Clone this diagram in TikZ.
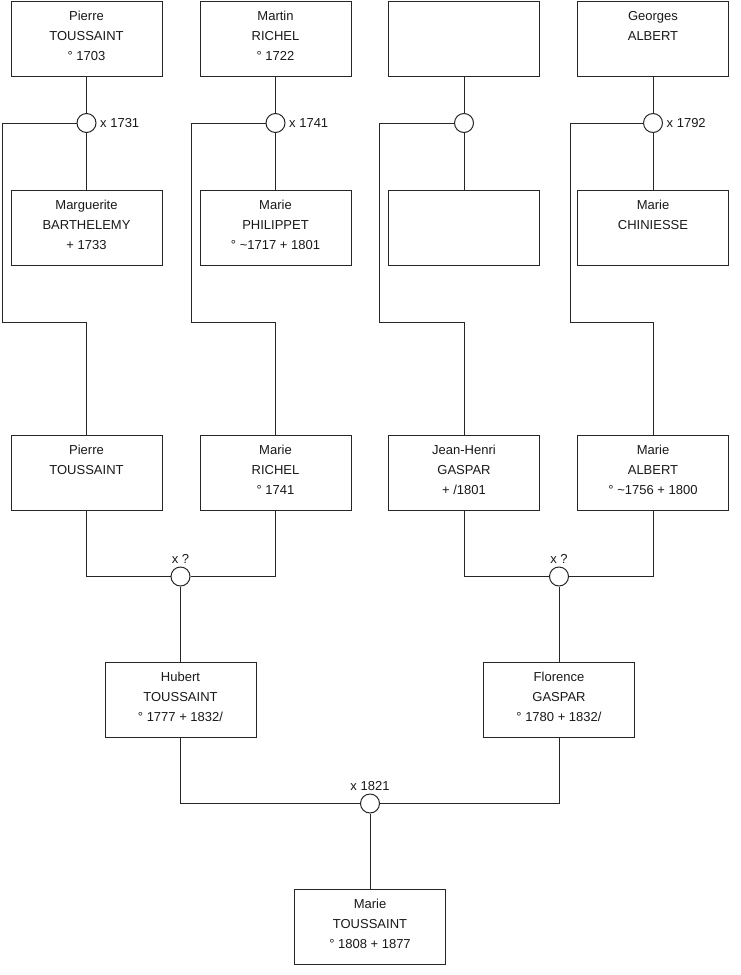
\documentclass[tikz,border=0pt]{standalone}
\usepackage{fontspec}
\setmainfont{Liberation Sans}
\begin{document}
\begin{tikzpicture}[x=1pt,y=-1pt,
  pbox/.style={draw=black!85, line width=1pt, rectangle, minimum width=151pt, minimum height=75pt, inner sep=0pt, anchor=north, fill=white},
  ptxt/.style={anchor=base, inner sep=0pt, font=\fontsize{13}{15}\selectfont, text=black!90},
  mrg/.style={draw=black!85, line width=1pt, circle, minimum size=19pt, inner sep=0pt, fill=white},
  mlab/.style={inner sep=0pt, font=\fontsize{13}{15}\selectfont, text=black!90},
  conn/.style={draw=black!85, line width=1pt}
]
\useasboundingbox (0,0) rectangle (740,975);
\newcommand\pers[6]{%
  \node[pbox] (#1) at (#2,#3) {};
  \node[ptxt] (#1-a) at ([yshift=-19.5pt]#1.north) {#4};
  \node[ptxt] (#1-b) at ([yshift=-39.5pt]#1.north) {#5};
  \node[ptxt] (#1-c) at ([yshift=-59.5pt]#1.north) {#6};
}
% row 1
\pers{a1}{86.5}{0.5}{Pierre}{TOUSSAINT}{° 1703}
\pers{b1}{275.5}{0.5}{Martin}{RICHEL}{° 1722}
\pers{c1}{464}{0.5}{}{}{}
\pers{d1}{653}{0.5}{Georges}{ALBERT}{}
% row 2
\pers{a2}{86.5}{189.5}{Marguerite}{BARTHELEMY}{+ 1733}
\pers{b2}{275.5}{189.5}{Marie}{PHILIPPET}{° \textasciitilde 1717 + 1801}
\pers{c2}{464}{189.5}{}{}{}
\pers{d2}{653}{189.5}{Marie}{CHINIESSE}{}
% row 3
\pers{a3}{86.5}{435}{Pierre}{TOUSSAINT}{}
\pers{b3}{275.5}{435}{Marie}{RICHEL}{° 1741}
\pers{c3}{464}{435}{Jean-Henri}{GASPAR}{+ /1801}
\pers{d3}{653}{435}{Marie}{ALBERT}{° \textasciitilde 1756 + 1800}
% row 4
\pers{h}{180.5}{662}{Hubert}{TOUSSAINT}{° 1777 + 1832/}
\pers{f}{559}{662}{Florence}{GASPAR}{° 1780 + 1832/}
% row 5
\pers{m}{370}{888.5}{Marie}{TOUSSAINT}{° 1808 + 1877}

% marriage circles
\node[mrg] (ma) at (86.5,123) {};
\node[mrg] (mb) at (275.5,123) {};
\node[mrg] (mc) at (464,123) {};
\node[mrg] (md) at (653,123) {};
\node[mrg] (mh) at (180.5,576.5) {};
\node[mrg] (mf) at (559,576.5) {};
\node[mrg] (mm) at (370,803.5) {};

% marriage labels
\node[mlab, anchor=west] (la) at ([xshift=3.5pt]ma.east) {x 1731};
\node[mlab, anchor=west] (lb) at ([xshift=3.5pt]mb.east) {x 1741};
\node[mlab, anchor=west] (ld) at ([xshift=3.5pt]md.east) {x 1792};
\node[mlab, anchor=south] (lh) at ([yshift=3pt]mh.north) {x ?};
\node[mlab, anchor=south] (lf) at ([yshift=3pt]mf.north) {x ?};
\node[mlab, anchor=south] (lm) at ([yshift=3pt]mm.north) {x 1821};

% connectors column a
\draw[conn] (a1.south) -- (ma.north);
\draw[conn] (ma.south) -- (a2.north);
\coordinate (ja1) at (2,123);
\coordinate (ja2) at (2,322);
\coordinate (ja3) at (86.5,322);
\draw[conn] (ma.west) -- (ja1) -- (ja2) -- (ja3) -- (a3.north);
% column b
\draw[conn] (b1.south) -- (mb.north);
\draw[conn] (mb.south) -- (b2.north);
\coordinate (jb1) at (191,123);
\coordinate (jb2) at (191,322);
\coordinate (jb3) at (275.5,322);
\draw[conn] (mb.west) -- (jb1) -- (jb2) -- (jb3) -- (b3.north);
% column c
\draw[conn] (c1.south) -- (mc.north);
\draw[conn] (mc.south) -- (c2.north);
\coordinate (jc1) at (379.5,123);
\coordinate (jc2) at (379.5,322);
\coordinate (jc3) at (464,322);
\draw[conn] (mc.west) -- (jc1) -- (jc2) -- (jc3) -- (c3.north);
% column d
\draw[conn] (d1.south) -- (md.north);
\draw[conn] (md.south) -- (d2.north);
\coordinate (jd1) at (570,123);
\coordinate (jd2) at (570,322);
\coordinate (jd3) at (653,322);
\draw[conn] (md.west) -- (jd1) -- (jd2) -- (jd3) -- (d3.north);

% generation 3 -> 4
\draw[conn] (a3.south) |- (mh.west);
\draw[conn] (b3.south) |- (mh.east);
\draw[conn] (mh.south) -- (h.north);
\draw[conn] (c3.south) |- (mf.west);
\draw[conn] (d3.south) |- (mf.east);
\draw[conn] (mf.south) -- (f.north);
% generation 4 -> 5
\draw[conn] (h.south) |- (mm.west);
\draw[conn] (f.south) |- (mm.east);
\draw[conn] (mm.south) -- (m.north);
\end{tikzpicture}
\end{document}
